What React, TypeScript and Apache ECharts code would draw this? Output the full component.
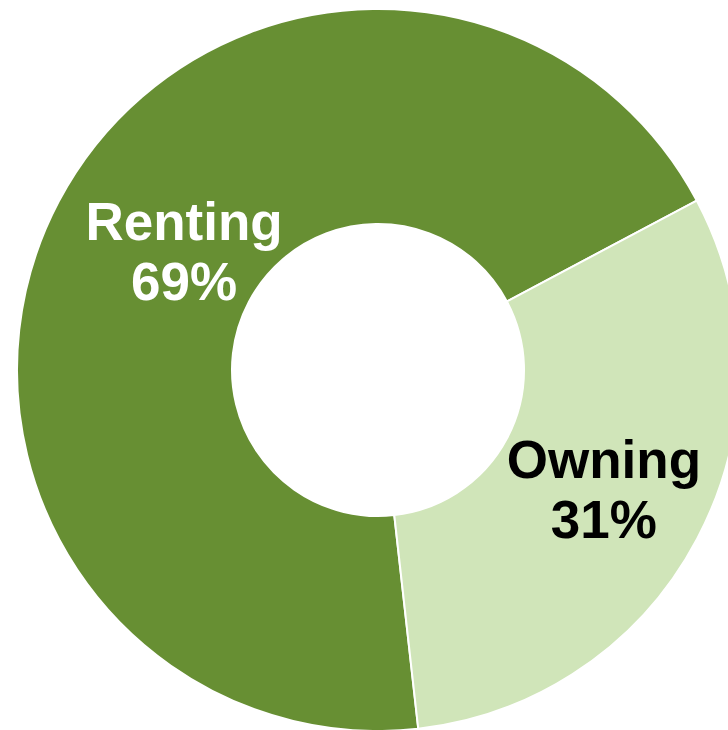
import React, { useEffect, useRef } from "react";
import * as echarts from "echarts";

const categories = ["Renting", "Owning"];
const values = [69, 31];
const colors = ["#678F33", "#D0E5B9"];
const labelColors = ["#FFFFFF", "#000000"];

export default function App() {
  const ref = useRef<HTMLDivElement>(null);
  useEffect(() => {
    document.body.style.margin = "0";
    const chart = echarts.init(ref.current!, null, { renderer: "svg" });
    chart.setOption({
      animation: false,
      backgroundColor: "#FFFFFF",
      series: [
        {
          type: "pie",
          center: [378, 370],
          radius: [146, 361],
          startAngle: -83.6,
          clockwise: true,
          avoidLabelOverlap: false,
          itemStyle: { borderColor: "#FFFFFF", borderWidth: 2 },
          label: {
            show: true,
            position: "inside",
            formatter: "{b}\n{d}%",
            fontFamily: "Liberation Sans, Arial, sans-serif",
            fontWeight: "bold",
            fontSize: 53,
            lineHeight: 60,
          },
          labelLine: { show: false },
          data: categories.map((c, i) => ({
            name: c,
            value: values[i],
            itemStyle: { color: colors[i] },
            label: {
              color: labelColors[i],
              offset: i === 0 ? [33, 1] : [-1, 0],
            },
          })),
        },
      ],
    });
    return () => chart.dispose();
  }, []);
  return <div ref={ref} style={{ width: 728, height: 730 }} />;
}
